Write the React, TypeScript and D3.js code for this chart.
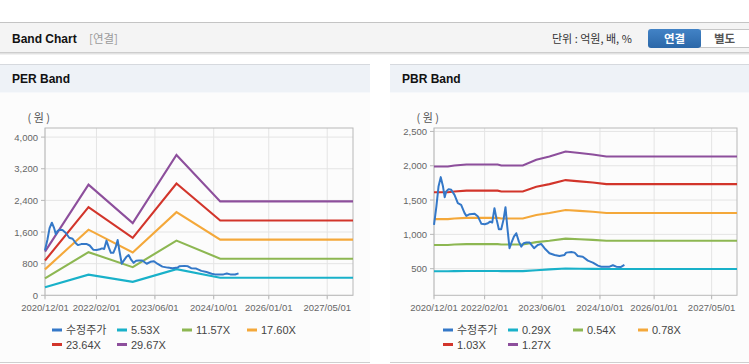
import React from "react";
import * as d3 from "d3";

// ---- data ----
const xTickLabels = ["2020/12/01", "2022/02/01", "2023/06/01", "2024/10/01", "2026/01/01", "2027/05/01"];

const priceDates = [
  "2020-12-01", "2020-12-21", "2021-01-08", "2021-01-27", "2021-02-15", "2021-03-01", "2021-03-14",
  "2021-04-03", "2021-04-25", "2021-05-23", "2021-06-20", "2021-07-18", "2021-08-16", "2021-08-31",
  "2021-09-28", "2021-11-09", "2021-12-07", "2022-01-05", "2022-02-02", "2022-03-01", "2022-03-20",
  "2022-04-06", "2022-04-25", "2022-05-14", "2022-06-01", "2022-06-21", "2022-07-10", "2022-07-27",
  "2022-08-11", "2022-08-30", "2022-09-14", "2022-10-06", "2022-10-26", "2022-11-17", "2022-12-07",
  "2022-12-27", "2023-01-19", "2023-02-16", "2023-03-25", "2023-04-25", "2023-05-24", "2023-06-21",
  "2023-08-02", "2023-09-14", "2023-10-25", "2023-12-07", "2023-12-21", "2024-02-02", "2024-03-01",
  "2024-03-28", "2024-05-09", "2024-06-21", "2024-08-02", "2024-09-14", "2024-10-12", "2024-12-21",
  "2025-01-18", "2025-02-16", "2025-03-28", "2025-04-25",
];
const priceValues = [
  1138, 1405, 1697, 1834, 1697, 1542, 1624,
  1659, 1649, 1576, 1455, 1430, 1309, 1269,
  1294, 1299, 1259, 1153, 1148, 1163, 1186,
  1172, 1382, 1211, 1075, 1075, 1211, 1396,
  1113, 798, 871, 967, 1017, 894, 821,
  871, 880, 880, 798, 846, 861, 798,
  725, 700, 685, 700, 734, 744, 734,
  685, 675, 617, 588, 544, 529, 529,
  550, 529, 525, 554,
];

const perDates = ["2020-12-01", "2021-11-27", "2022-11-29", "2023-11-27", "2024-11-24", "2027-12-01"];
const per553 = [206, 521, 340, 661, 442, 442];
const per1157 = [430, 1091, 712, 1383, 926, 926];
const per1760 = [655, 1660, 1082, 2103, 1408, 1408];
const per2364 = [879, 2229, 1454, 2825, 1891, 1891];
const per2967 = [1104, 2798, 1825, 3546, 2374, 2374];

const pbrDates = [
  "2020-12-01", "2021-03-28", "2021-05-22", "2021-09-01", "2022-05-22", "2022-06-22", "2022-12-20",
  "2023-04-13", "2023-08-02", "2023-12-16", "2024-04-12", "2024-08-01", "2024-11-24", "2027-12-01",
];
const pbr029 = [462, 462, 464, 466, 466, 464, 464, 478, 490, 503, 500, 497, 495, 495];
const pbr054 = [846, 846, 852, 858, 858, 852, 852, 887, 907, 938, 929, 920, 907, 907];
const pbr078 = [1222, 1222, 1231, 1240, 1240, 1231, 1231, 1282, 1312, 1356, 1342, 1329, 1312, 1312];
const pbr103 = [1613, 1613, 1625, 1637, 1637, 1625, 1625, 1693, 1732, 1791, 1772, 1755, 1732, 1732];
const pbr127 = [1989, 1989, 2004, 2018, 2018, 2004, 2004, 2087, 2135, 2208, 2185, 2164, 2135, 2135];

const perTicks = [0, 800, 1600, 2400, 3200, 4000];
const pbrTicks = [500, 1000, 1500, 2000, 2500];

const perLegend = ["수정주가", "5.53X", "11.57X", "17.60X", "23.64X", "29.67X"];
const pbrLegend = ["수정주가", "0.29X", "0.54X", "0.78X", "1.03X", "1.27X"];

const colors = ["#3478c8", "#19b1c9", "#8db752", "#f4a83a", "#d2352b", "#8d4f9c"];

const parse = d3.timeParse("%Y-%m-%d");
const tickDates = xTickLabels.map((s) => d3.timeParse("%Y/%m/%d")(s) as Date);
const xDomain = [parse("2020-12-01") as Date, parse("2027-12-01") as Date];

const FONT = "'Liberation Sans', Arial, 'Noto Sans CJK KR', sans-serif";
const KFONT = "'Noto Sans CJK KR', 'Liberation Sans', sans-serif";

type Series = { dates: string[]; values: number[] };

function BandPanel(props: {
  px: number;
  pw: number;
  title: string;
  left: number;
  right: number;
  yDomain: [number, number];
  yTicks: number[];
  bands: Series[];
  legend: string[];
  legendX: number;
}) {
  const { px, pw, title, left, right, yDomain, yTicks, bands, legend, legendX } = props;
  const top = 128;
  const bottom = 295.3;
  const x = d3.scaleTime().domain(xDomain).range([left, right]);
  const y = d3.scaleLinear().domain(yDomain).range([bottom, top]);
  const line = d3
    .line<[Date, number]>()
    .x((d) => x(d[0]))
    .y((d) => y(d[1]));
  const toPts = (s: Series) => s.dates.map((d, i) => [parse(d) as Date, s.values[i]] as [Date, number]);
  const price: Series = { dates: priceDates, values: priceValues };

  return (
    <g>
      <rect x={px} y={93} width={pw} height={269} fill="#fcfcfc" />
      <rect x={px} y={64} width={pw} height={28.5} fill="#eef2f7" />
      <line x1={px} x2={px + pw} y1={64.5} y2={64.5} stroke="#d6d9de" />
      <line x1={px} x2={px + pw} y1={362.5} y2={362.5} stroke="#cfcfcf" />
      <text x={px + 12} y={83} fontFamily={FONT} fontWeight="bold" fontSize={12} fill="#111">
        {title}
      </text>
      <text
        x={left - 5}
        y={122}
        fontFamily={KFONT}
        fontSize={11}
        fill="#555"
        textAnchor="middle"
        letterSpacing={2.5}
      >
        (원)
      </text>

      {/* grid */}
      {tickDates.map((d, i) => (
        <line key={"vx" + i} x1={x(d)} x2={x(d)} y1={top} y2={bottom + 3} stroke="#e4e4e4" />
      ))}
      {yTicks.map((t) => (
        <line key={"gy" + t} x1={left} x2={right} y1={y(t)} y2={y(t)} stroke="#e4e4e4" />
      ))}
      <rect x={left} y={top} width={right - left} height={bottom - top} fill="none" stroke="#b8b8b8" />
      {tickDates.map((d, i) => (
        <line key={"tx" + i} x1={x(d)} x2={x(d)} y1={bottom} y2={bottom + 4} stroke="#b8b8b8" />
      ))}
      {yTicks.map((t) => (
        <line key={"ty" + t} x1={left - 4} x2={left} y1={y(t)} y2={y(t)} stroke="#b8b8b8" />
      ))}

      {/* labels */}
      {yTicks.map((t) => (
        <text
          key={"ly" + t}
          x={left - 7}
          y={y(t) + 3.5}
          textAnchor="end"
          fontFamily={FONT}
          fontSize={9.5}
          fill="#666"
        >
          {d3.format(",")(t)}
        </text>
      ))}
      {tickDates.map((d, i) => (
        <text
          key={"lx" + i}
          x={x(d)}
          y={311}
          textAnchor="middle"
          fontFamily={FONT}
          fontSize={9.5}
          fill="#666"
        >
          {xTickLabels[i]}
        </text>
      ))}

      {/* series */}
      <g>
        {bands.map((s, i) => (
          <path key={"b" + i} d={line(toPts(s)) || ""} fill="none" stroke={colors[i + 1]} strokeWidth={2.1} />
        ))}
        <path d={line(toPts(price)) || ""} fill="none" stroke={colors[0]} strokeWidth={2} strokeLinejoin="round" />
      </g>

      {/* legend */}
      {legend.map((name, i) => {
        const col = i < 4 ? i : i - 4;
        const row = i < 4 ? 0 : 1;
        const lx = legendX + col * 65;
        const ly = 330 + row * 14.5;
        return (
          <g key={"lg" + i}>
            <line x1={lx} x2={lx + 10} y1={ly} y2={ly} stroke={colors[i]} strokeWidth={3} />
            <text
              x={lx + 14}
              y={ly + 4}
              fontFamily={i === 0 ? KFONT : FONT}
              fontSize={11}
              fill="#444"
            >
              {name}
            </text>
          </g>
        );
      })}
    </g>
  );
}

export default function App() {
  const perBands: Series[] = [per553, per1157, per1760, per2364, per2967].map((v) => ({ dates: perDates, values: v }));
  const pbrBands: Series[] = [pbr029, pbr054, pbr078, pbr103, pbr127].map((v) => ({ dates: pbrDates, values: v }));

  return (
    <div style={{ position: "absolute", left: 0, top: 0 }}>
      <svg width={749} height={364} style={{ display: "block", background: "#fff" }}>
        <defs>
          <linearGradient id="btn" x1="0" x2="0" y1="0" y2="1">
            <stop offset="0" stopColor="#4283c6" />
            <stop offset="1" stopColor="#2b67a8" />
          </linearGradient>
        </defs>
        {/* top header bar */}
        <rect x={0} y={23} width={749} height={29.5} fill="#f4f4f4" />
        <line x1={0} x2={749} y1={22.5} y2={22.5} stroke="#c4c4c4" />
        <line x1={0} x2={749} y1={52.5} y2={52.5} stroke="#cdcdcd" />
        <line x1={0} x2={749} y1={53.5} y2={53.5} stroke="#e2e2e2" />
        <line x1={0} x2={749} y1={54.5} y2={54.5} stroke="#f1f1f1" />
        <text x={12} y={43} fontFamily={FONT} fontWeight="bold" fontSize={12} fill="#111">
          Band Chart
        </text>
        <text x={89} y={43} fontFamily={KFONT} fontSize={11.5} fill="#9a9a9a">
          [연결]
        </text>
        <text x={552} y={43} fontFamily={KFONT} fontSize={11} fill="#333">
          단위 : 억원, 배, %
        </text>
        <rect x={700.5} y={29.5} width={60} height={18} fill="#fff" stroke="#c6c6c6" />
        <rect x={648} y={29} width={53} height={19} rx={3} fill="url(#btn)" />
        <text x={674.5} y={43} textAnchor="middle" fontFamily={KFONT} fontWeight="bold" fontSize={11.5} fill="#fff">
          연결
        </text>
        <text x={724.5} y={43} textAnchor="middle" fontFamily={KFONT} fontWeight="bold" fontSize={11.5} fill="#555">
          별도
        </text>

        <BandPanel
          px={0}
          pw={370}
          title="PER Band"
          left={45}
          right={353}
          yDomain={[0, 4230]}
          yTicks={perTicks}
          bands={perBands}
          legend={perLegend}
          legendX={52}
        />
        <BandPanel
          px={390}
          pw={359}
          title="PBR Band"
          left={434}
          right={737}
          yDomain={[112, 2550]}
          yTicks={pbrTicks}
          bands={pbrBands}
          legend={pbrLegend}
          legendX={443}
        />
      </svg>
    </div>
  );
}
